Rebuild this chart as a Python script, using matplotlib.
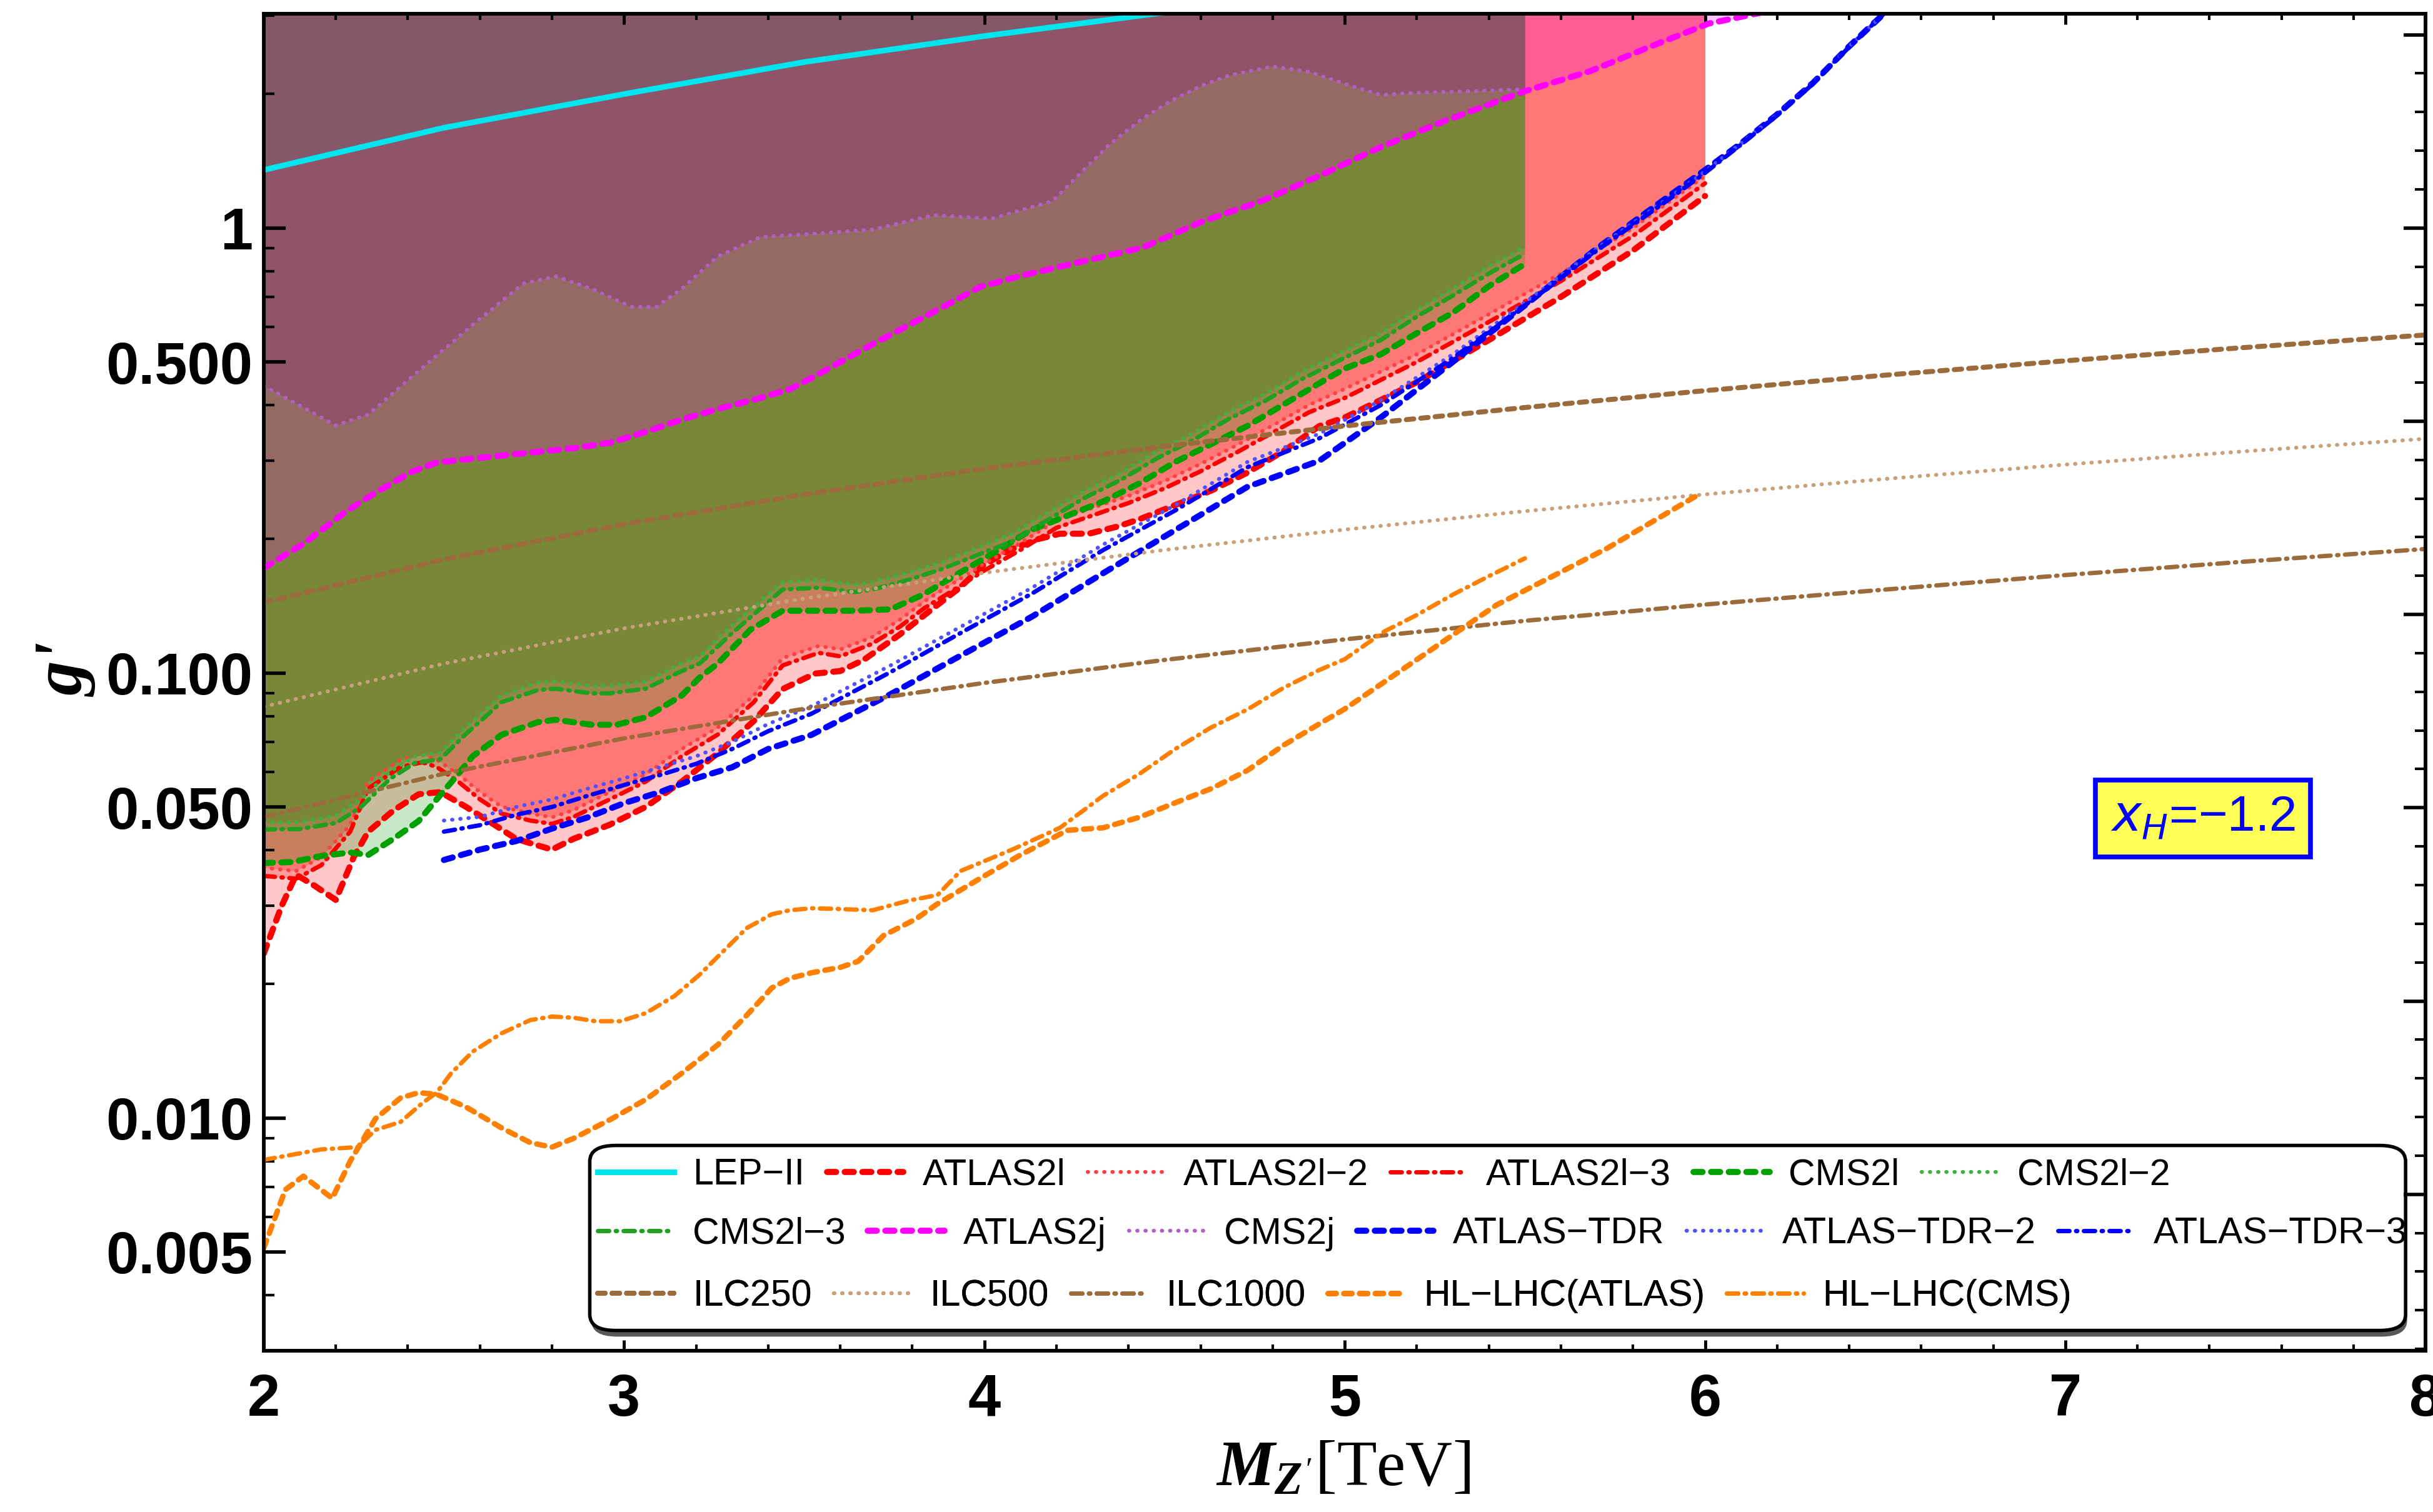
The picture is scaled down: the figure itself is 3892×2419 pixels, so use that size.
import matplotlib
matplotlib.use("Agg")
import matplotlib.pyplot as plt
import numpy as np
from matplotlib.patches import FancyBboxPatch
from matplotlib.ticker import FixedLocator, FixedFormatter, LogLocator, MultipleLocator, NullFormatter

plt.rcParams["font.family"] = ["Liberation Sans", "DejaVu Sans"]
plt.rcParams["mathtext.fontset"] = "custom"
plt.rcParams["mathtext.it"] = "Liberation Serif:italic:bold"
plt.rcParams["mathtext.rm"] = "Liberation Serif"
plt.rcParams["mathtext.bf"] = "Liberation Serif:bold"

# ---- data (M_Z' in TeV, g') ----
lep_x = [2.0, 2.5, 3.0, 3.5, 4.0, 4.5]
lep_y = [1.35, 1.68, 2.0, 2.36, 2.70, 3.05]

atlas2l_x = [2.0, 2.05, 2.09, 2.14, 2.20, 2.25, 2.29, 2.36, 2.43, 2.49, 2.56, 2.64, 2.70, 2.75, 2.80,
             2.86, 2.96, 3.06, 3.16, 3.26, 3.36, 3.44, 3.53, 3.60, 3.665, 3.765, 3.854, 3.934, 3.994,
             4.07, 4.15, 4.21, 4.29, 4.37, 4.43, 4.53, 4.63, 4.73, 4.83, 4.93, 5.0, 5.2, 5.4, 5.6, 5.8, 6.0]
atlas2l_y = [0.0234, 0.030, 0.0352, 0.0333, 0.0309, 0.0386, 0.044, 0.0491, 0.0534, 0.054, 0.0501, 0.0456,
             0.0424, 0.0412, 0.0401, 0.0424, 0.0456, 0.050, 0.057, 0.066, 0.078, 0.092, 0.0997, 0.101,
             0.107, 0.122, 0.139, 0.156, 0.174, 0.189, 0.200, 0.2056, 0.2056, 0.2134, 0.2215, 0.2385,
             0.257, 0.282, 0.315, 0.359, 0.375, 0.45, 0.56, 0.70, 0.89, 1.18]

atlas2l_up_x = [2.0, 2.09, 2.16, 2.24, 2.29, 2.38, 2.44, 2.48, 2.54, 2.60, 2.66, 2.74, 2.80, 2.86, 2.96,
                3.06, 3.16, 3.26, 3.36, 3.44, 3.54, 3.60, 3.685, 3.765, 3.834, 3.894, 4.0, 4.1, 4.2, 4.3,
                4.4, 4.5, 4.6, 4.7, 4.8, 4.9, 5.0, 5.2, 5.4, 5.6, 5.8, 6.0]
atlas2l_2_y = [0.0365, 0.0359, 0.0386, 0.0456, 0.0571, 0.0638, 0.0655, 0.0638, 0.0592, 0.054, 0.0501,
               0.0483, 0.0474, 0.0492, 0.054, 0.0592, 0.0675, 0.0754, 0.089, 0.108, 0.115, 0.113, 0.120,
               0.1317, 0.145, 0.1556, 0.176, 0.196, 0.22, 0.235, 0.25, 0.27, 0.295, 0.325, 0.36, 0.40,
               0.435, 0.52, 0.64, 0.79, 1.0, 1.31]
atlas2l_3_y = [0.035, 0.0345, 0.037, 0.044, 0.055, 0.0615, 0.063, 0.0615, 0.057, 0.052, 0.0483, 0.0466,
               0.0458, 0.0475, 0.052, 0.057, 0.065, 0.0727, 0.086, 0.104, 0.111, 0.109, 0.116, 0.127,
               0.14, 0.15, 0.17, 0.189, 0.212, 0.226, 0.241, 0.26, 0.284, 0.313, 0.347, 0.385, 0.415,
               0.50, 0.615, 0.76, 0.96, 1.26]

cms2l_x = [2.0, 2.08, 2.16, 2.24, 2.29, 2.36, 2.43, 2.48, 2.53, 2.58, 2.66, 2.76, 2.81, 2.91, 2.98, 3.06,
           3.16, 3.21, 3.26, 3.35, 3.44, 3.54, 3.64, 3.74, 3.83, 3.93, 4.03, 4.13, 4.23, 4.33, 4.43, 4.53,
           4.63, 4.73, 4.83, 4.93, 5.0, 5.1, 5.2, 5.3, 5.4, 5.5]
cms2l_y = [0.0374, 0.0376, 0.0388, 0.0395, 0.039, 0.0424, 0.0465, 0.052, 0.058, 0.065, 0.0726, 0.0775,
           0.0785, 0.0765, 0.0765, 0.0795, 0.089, 0.0977, 0.105, 0.125, 0.138, 0.138, 0.138, 0.139, 0.150,
           0.1676, 0.187, 0.2095, 0.2256, 0.243, 0.2667, 0.298, 0.327, 0.359, 0.401, 0.448, 0.483, 0.52,
           0.58, 0.645, 0.74, 0.83]

cms2l_up_x = [2.0, 2.1, 2.2, 2.27, 2.35, 2.42, 2.49, 2.56, 2.66, 2.76, 2.81, 2.91, 2.96, 3.06, 3.16, 3.21,
              3.30, 3.44, 3.54, 3.64, 3.69, 3.79, 3.88, 3.98, 4.08, 4.18, 4.28, 4.38, 4.48, 4.58, 4.68,
              4.78, 4.88, 5.0, 5.1, 5.2, 5.3, 5.4, 5.5]
cms2l_2_y = [0.0461, 0.0462, 0.0478, 0.052, 0.060, 0.065, 0.0662, 0.0754, 0.089, 0.095, 0.0957, 0.0935,
             0.0935, 0.0957, 0.105, 0.109, 0.128, 0.160, 0.1616, 0.158, 0.160, 0.168, 0.177, 0.191, 0.206,
             0.230, 0.257, 0.282, 0.315, 0.346, 0.387, 0.424, 0.474, 0.530, 0.58, 0.655, 0.73, 0.82, 0.905]
cms2l_3_y = [0.0445, 0.0446, 0.046, 0.050, 0.0578, 0.0628, 0.064, 0.0728, 0.086, 0.0915, 0.0922, 0.090,
             0.090, 0.0922, 0.101, 0.105, 0.123, 0.154, 0.1555, 0.152, 0.154, 0.162, 0.171, 0.184, 0.198,
             0.222, 0.248, 0.272, 0.304, 0.334, 0.373, 0.409, 0.457, 0.511, 0.56, 0.632, 0.705, 0.79, 0.875]

atlas2j_x = [2.0, 2.11, 2.23, 2.31, 2.41, 2.48, 2.56, 2.66, 2.76, 2.86, 2.96, 3.06, 3.16, 3.26, 3.36, 3.46,
             3.52, 3.69, 3.86, 3.99, 4.10, 4.27, 4.44, 4.60, 4.77, 4.93, 5.10, 5.27, 5.50, 5.68, 5.85, 6.01, 6.2]
atlas2j_y = [0.172, 0.195, 0.231, 0.254, 0.283, 0.297, 0.302, 0.308, 0.314, 0.320, 0.329, 0.348, 0.371,
             0.392, 0.411, 0.434, 0.46, 0.548, 0.648, 0.738, 0.78, 0.84, 0.904, 1.03, 1.15, 1.31, 1.52,
             1.73, 2.03, 2.25, 2.56, 2.88, 3.1]

cms2j_x = [2.0, 2.20, 2.29, 2.44, 2.58, 2.72, 2.81, 2.91, 3.02, 3.09, 3.16, 3.26, 3.38, 3.52, 3.69, 3.86,
           4.02, 4.19, 4.27, 4.35, 4.44, 4.52, 4.60, 4.68, 4.80, 4.90, 5.02, 5.10, 5.18, 5.35, 5.50]
cms2j_y = [0.442, 0.360, 0.381, 0.485, 0.606, 0.750, 0.779, 0.730, 0.665, 0.665, 0.730, 0.863, 0.955,
           0.970, 0.992, 1.069, 1.049, 1.151, 1.335, 1.549, 1.764, 1.936, 2.084, 2.203, 2.308, 2.245,
           2.084, 1.99, 2.01, 2.03, 2.05]

tdr_x = [2.5, 2.6, 2.7, 2.8, 2.9, 3.0, 3.1, 3.2, 3.3, 3.4, 3.52, 3.735, 3.934, 4.133, 4.33, 4.53, 4.73,
         4.93, 5.1, 5.3, 5.5, 5.7, 5.9, 6.0, 6.1, 6.2, 6.3, 6.4, 6.5]
tdr_y = [0.038, 0.0401, 0.0419, 0.0447, 0.0474, 0.051, 0.054, 0.058, 0.0614, 0.0675, 0.0726, 0.0892,
         0.1094, 0.134, 0.1677, 0.2096, 0.262, 0.30, 0.375, 0.50, 0.67, 0.90, 1.18, 1.35, 1.55, 1.80,
         2.12, 2.56, 3.05]
tdr2_y = [0.0466, 0.0475, 0.050, 0.052, 0.055, 0.058, 0.0614, 0.065, 0.070, 0.0768, 0.0842, 0.1035,
          0.127, 0.1556, 0.1945, 0.2385, 0.298, 0.345, 0.41, 0.52, 0.68, 0.90, 1.17, 1.34, 1.55, 1.80,
          2.12, 2.56, 3.05]
tdr3_y = [0.044, 0.0455, 0.048, 0.050, 0.053, 0.056, 0.059, 0.0625, 0.0675, 0.074, 0.081, 0.10, 0.123,
          0.151, 0.189, 0.232, 0.29, 0.337, 0.40, 0.51, 0.67, 0.89, 1.16, 1.33, 1.54, 1.79, 2.11, 2.55, 3.05]

ilc_x = [2.0, 2.5, 3.0, 3.5, 4.0, 4.5, 5.0, 5.5, 6.0, 6.5, 7.0, 7.5, 8.0]
ilc250_y = [0.144, 0.18, 0.216, 0.252, 0.288, 0.323, 0.359, 0.395, 0.431, 0.467, 0.503, 0.539, 0.575]
ilc500_y = [0.084, 0.105, 0.126, 0.147, 0.168, 0.189, 0.21, 0.231, 0.252, 0.273, 0.294, 0.315, 0.336]
ilc1000_y = [0.0475, 0.0594, 0.0713, 0.0831, 0.095, 0.107, 0.119, 0.131, 0.1425, 0.154, 0.166, 0.178, 0.19]

hl_atlas_x = [2.0, 2.06, 2.11, 2.19, 2.24, 2.31, 2.38, 2.43, 2.48, 2.56, 2.66, 2.74, 2.80, 2.86, 2.96,
              3.06, 3.16, 3.26, 3.34, 3.41, 3.46, 3.52, 3.60, 3.65, 3.72, 3.81, 3.87, 4.0, 4.1, 4.23, 4.33,
              4.43, 4.53, 4.63, 4.73, 4.83, 4.93, 5.0, 5.11, 5.42, 5.73, 5.99]
hl_atlas_y = [0.0051, 0.0069, 0.0074, 0.0066, 0.008, 0.00996, 0.0111, 0.0114, 0.0113, 0.0106, 0.0095,
              0.0088, 0.0086, 0.009, 0.0099, 0.011, 0.0126, 0.0146, 0.017, 0.0196, 0.0206, 0.0212, 0.0218,
              0.0225, 0.0257, 0.028, 0.0303, 0.035, 0.039, 0.0443, 0.0449, 0.0474, 0.0511, 0.055, 0.0604,
              0.0688, 0.0769, 0.083, 0.0955, 0.142, 0.191, 0.254]

hl_cms_x = [2.0, 2.09, 2.16, 2.26, 2.31, 2.38, 2.44, 2.48, 2.52, 2.58, 2.66, 2.74, 2.80, 2.86, 2.92, 2.99,
            3.06, 3.14, 3.21, 3.28, 3.34, 3.41, 3.46, 3.52, 3.59, 3.69, 3.79, 3.87, 3.934, 4.08, 4.21, 4.33,
            4.43, 4.53, 4.63, 4.73, 4.83, 4.93, 5.0, 5.11, 5.2, 5.3, 5.4, 5.5]
hl_cms_y = [0.00805, 0.0083, 0.0085, 0.0086, 0.0094, 0.0098, 0.0108, 0.0114, 0.0126, 0.0141, 0.0155,
            0.0166, 0.0169, 0.0168, 0.0165, 0.0165, 0.0172, 0.0188, 0.021, 0.0239, 0.0267, 0.0287, 0.0293,
            0.0296, 0.0295, 0.0293, 0.0308, 0.0317, 0.0359, 0.0402, 0.0449, 0.053, 0.0593, 0.0675, 0.0755,
            0.0828, 0.0926, 0.1016, 0.1074, 0.124, 0.135, 0.150, 0.165, 0.181]

y_tick_vals = [0.005, 0.01, 0.05, 0.1, 0.5, 1]
y_tick_labels = ["0.005", "0.010", "0.050", "0.100", "0.500", "1"]

# ---- styles ----
DASH = (1.5, 1.4)
DOT = (0.1, 2.0)
DASHDOT = (2.6, 1.5, 0.3, 1.5)

series = [
    (lep_x, lep_y, "LEP\u2212II", "#00E5EE", 2.6, None),
    (atlas2l_x, atlas2l_y, "ATLAS2l", "#FF0000", 2.8, DASH),
    (atlas2l_up_x, atlas2l_2_y, "ATLAS2l\u22122", "#FF4040", 1.8, DOT),
    (atlas2l_up_x, atlas2l_3_y, "ATLAS2l\u22123", "#FF0000", 2.0, DASHDOT),
    (cms2l_x, cms2l_y, "CMS2l", "#00A000", 2.8, DASH),
    (cms2l_up_x, cms2l_2_y, "CMS2l\u22122", "#40B040", 1.8, DOT),
    (cms2l_up_x, cms2l_3_y, "CMS2l\u22123", "#20A020", 2.0, DASHDOT),
    (atlas2j_x, atlas2j_y, "ATLAS2j", "#FF00FF", 2.8, DASH),
    (cms2j_x, cms2j_y, "CMS2j", "#B060C0", 1.8, DOT),
    (tdr_x, tdr_y, "ATLAS\u2212TDR", "#0000FF", 2.8, DASH),
    (tdr_x, tdr2_y, "ATLAS\u2212TDR\u22122", "#5050FF", 1.8, DOT),
    (tdr_x, tdr3_y, "ATLAS\u2212TDR\u22123", "#0000FF", 2.0, DASHDOT),
    (ilc_x, ilc250_y, "ILC250", "#9C6B3C", 2.3, DASH),
    (ilc_x, ilc500_y, "ILC500", "#C8A07A", 1.8, DOT),
    (ilc_x, ilc1000_y, "ILC1000", "#9C6B3C", 2.0, DASHDOT),
    (hl_atlas_x, hl_atlas_y, "HL\u2212LHC(ATLAS)", "#FF8000", 2.5, DASH),
    (hl_cms_x, hl_cms_y, "HL\u2212LHC(CMS)", "#FF8000", 2.0, DASHDOT),
]

# filled exclusion regions (each curve shaded up to the top of the frame)
fills = [
    (atlas2l_x, atlas2l_y, "#FF0000", 0.22),
    (atlas2l_up_x, atlas2l_2_y, "#FF0000", 0.22),
    (atlas2l_up_x, atlas2l_3_y, "#FF0000", 0.22),
    (cms2l_x, cms2l_y, "#009900", 0.22),
    (cms2l_up_x, cms2l_2_y, "#009900", 0.22),
    (cms2l_up_x, cms2l_3_y, "#009900", 0.22),
    (atlas2j_x, atlas2j_y, "#FF00FF", 0.22),
    (cms2j_x, cms2j_y, "#800080", 0.20),
    (lep_x, lep_y, "#2F6E72", 0.10),
]

fig = plt.figure(figsize=(15.568, 9.676), dpi=250)
ax = fig.add_axes([0.1084, 0.1067, 0.8886, 0.8842])
ax.set_yscale("log")
ax.set_xlim(2, 8)
ax.set_ylim(0.003, 3.03)
top = ax.get_ylim()[1]

for fx, fy, c, a in fills:
    ax.fill_between(fx, fy, top, color=c, alpha=a, linewidth=0, zorder=1)

handles = []
for sx, sy, label, color, lw, dashes in series:
    if dashes is None:
        ln, = ax.plot(sx, sy, color=color, lw=lw, label=label, zorder=3)
    else:
        ln, = ax.plot(sx, sy, color=color, lw=lw, label=label, zorder=3,
                      dashes=dashes, dash_capstyle="round")
    handles.append(ln)

# ---- axes / ticks ----
ax.yaxis.set_major_locator(FixedLocator(y_tick_vals))
ax.yaxis.set_major_formatter(FixedFormatter(y_tick_labels))
ax.yaxis.set_minor_locator(LogLocator(base=10, subs=np.arange(1, 10), numticks=20))
ax.yaxis.set_minor_formatter(NullFormatter())
ax.xaxis.set_major_locator(MultipleLocator(1))
ax.xaxis.set_minor_locator(MultipleLocator(0.2))

ax.tick_params(axis="both", which="both", direction="in")
ax.tick_params(axis="x", which="major", length=5, width=1.4, top=True, labelsize=27, pad=10)
ax.tick_params(axis="x", which="minor", length=3, width=1.2, top=True)
ax.tick_params(axis="y", which="major", length=10, width=1.6, right=False, labelsize=27, pad=5)
ax.tick_params(axis="y", which="minor", length=5, width=1.2, right=False)
for lab in ax.get_xticklabels() + ax.get_yticklabels():
    lab.set_fontweight("bold")
for sp in ax.spines.values():
    sp.set_linewidth(1.6)

ax2 = ax.twinx()
ax2.set_yscale("log")
ax2.set_ylim(ax.get_ylim())
ax2.yaxis.set_major_locator(FixedLocator(np.exp(np.arange(-5, 2))))
ax2.yaxis.set_minor_locator(FixedLocator(np.exp(np.arange(-29, 6) * 0.2)))
ax2.yaxis.set_major_formatter(NullFormatter())
ax2.yaxis.set_minor_formatter(NullFormatter())
ax2.tick_params(axis="y", which="major", direction="in", length=10, width=1.6)
ax2.tick_params(axis="y", which="minor", direction="in", length=5, width=1.2)
for sp in ax2.spines.values():
    sp.set_linewidth(1.6)

# ---- legend: three rows inside a rounded box ----
shadow = FancyBboxPatch((0.1515, 0.0105), 0.8399, 0.1384, boxstyle="round,pad=0,rounding_size=0.012",
                        transform=ax.transAxes, fc="0.35", ec="none", zorder=4.4)
box = FancyBboxPatch((0.1508, 0.0151), 0.8399, 0.1384, boxstyle="round,pad=0,rounding_size=0.012",
                     transform=ax.transAxes, fc="white", ec="black", lw=1.6, zorder=4.5)
ax.add_patch(shadow)
ax.add_patch(box)

rows = [(handles[0:6], 0.1314), (handles[6:12], 0.0872), (handles[12:17], 0.0407)]
for row_handles, ypos in rows:
    leg = ax.legend(handles=row_handles, loc="center left", bbox_to_anchor=(0.1543, ypos),
                    ncol=len(row_handles), frameon=False, fontsize=17, handlelength=2.07,
                    handletextpad=0.52, columnspacing=0.6, borderpad=0, borderaxespad=0)
    leg.set_zorder(6)
    ax.add_artist(leg)

# ---- annotations ----
ax.text(0.897, 0.398, "$x_H$=\u22121.2", transform=ax.transAxes,
        ha="center", va="center", color="#0000FF", fontsize=23, math_fontfamily="dejavusans",
        zorder=6, bbox=dict(boxstyle="square,pad=0.3", fc="#FFFF55", ec="#0000FF", lw=2.2))

fig.text(0.552, 0.028, r"$M_{Z'}$[TeV]", fontsize=30, family="Liberation Serif",
         ha="center", va="center")
fig.text(0.027, 0.557, "g'", fontsize=32, family="Liberation Serif", weight="bold", style="italic",
         rotation=90, ha="center", va="center")

fig.savefig("out.png", dpi=250)
